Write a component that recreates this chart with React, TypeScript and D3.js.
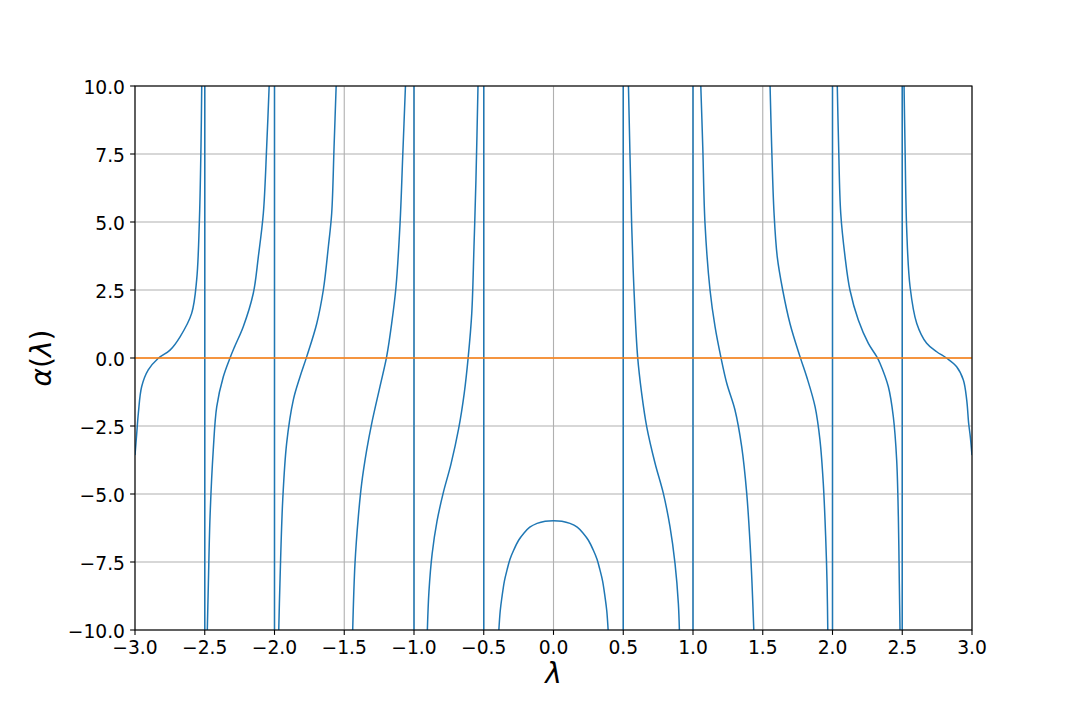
import React from 'react';
import * as d3 from 'd3';

type Pt = [number, number];

const LAMBDA_TICKS = [-3, -2.5, -2, -1.5, -1, -0.5, 0, 0.5, 1, 1.5, 2, 2.5, 3];
const ALPHA_TICKS = [-10, -7.5, -5, -2.5, 0, 2.5, 5, 7.5, 10];
const POLES = [-2.5, -2, -1, -0.5, 0.5, 1, 2, 2.5];

// branches of alpha(lambda)
const branchL5: Pt[] = [
  [-3.0, -3.57], [-2.988, -2.8], [-2.976, -2.03], [-2.952, -1.05], [-2.905, -0.44], [-2.833, -0.01],
  [-2.749, 0.29], [-2.677, 0.78], [-2.594, 1.64], [-2.558, 2.87], [-2.539, 4.95], [-2.527, 7.77], [-2.521, 10.3],
];
const branchL4: Pt[] = [
  [-2.483, -10.3], [-2.474, -8.28], [-2.462, -5.83], [-2.439, -3.38], [-2.414, -1.79], [-2.367, -0.69],
  [-2.319, 0.0], [-2.283, 0.45], [-2.224, 1.15], [-2.152, 2.38], [-2.116, 3.72], [-2.08, 5.32], [-2.056, 7.77], [-2.036, 10.3],
];
const branchL3: Pt[] = [
  [-1.971, -10.3], [-1.961, -8.28], [-1.941, -5.22], [-1.913, -3.14], [-1.865, -1.54], [-1.817, -0.69],
  [-1.769, 0.05], [-1.697, 1.27], [-1.65, 2.5], [-1.614, 4.09], [-1.59, 5.32], [-1.573, 7.77], [-1.556, 10.3],
];
const branchL2: Pt[] = [
  [-1.441, -10.3], [-1.423, -7.55], [-1.399, -5.83], [-1.375, -4.61], [-1.339, -3.38], [-1.303, -2.4],
  [-1.244, -1.05], [-1.196, 0.05], [-1.16, 1.27], [-1.129, 2.62], [-1.1, 4.95], [-1.081, 7.4], [-1.059, 10.3],
];
const branchL1: Pt[] = [
  [-0.906, -10.3], [-0.893, -8.6], [-0.87, -7.2], [-0.835, -6.0], [-0.79, -4.95], [-0.735, -3.9],
  [-0.68, -2.6], [-0.64, -1.3], [-0.611, 0.05], [-0.586, 1.64], [-0.57, 4.09], [-0.556, 6.54], [-0.54, 10.3],
];
const branchC: Pt[] = [
  [-0.395, -10.3], [-0.382, -9.3], [-0.369, -8.77], [-0.352, -8.2], [-0.333, -7.79], [-0.312, -7.4],
  [-0.285, -7.06], [-0.25, -6.7], [-0.214, -6.45], [-0.17, -6.22], [-0.118, -6.08], [-0.06, -6.0], [0.0, -5.98],
  [0.06, -6.0], [0.118, -6.08], [0.17, -6.22], [0.214, -6.45], [0.25, -6.7], [0.285, -7.06], [0.312, -7.4],
  [0.333, -7.79], [0.352, -8.2], [0.369, -8.77], [0.382, -9.3], [0.395, -10.3],
];
const branchR1: Pt[] = [
  [0.536, 10.3], [0.548, 7.53], [0.56, 4.95], [0.577, 2.5], [0.603, 0.05], [0.632, -1.3], [0.668, -2.52],
  [0.728, -3.87], [0.787, -4.97], [0.835, -6.2], [0.871, -7.55], [0.895, -9.02], [0.904, -10.3],
];
const branchR2: Pt[] = [
  [1.054, 10.3], [1.07, 7.77], [1.086, 4.95], [1.122, 2.5], [1.158, 1.15], [1.199, 0.05], [1.242, -0.93],
  [1.301, -1.91], [1.349, -3.26], [1.385, -4.97], [1.409, -6.81], [1.423, -8.28], [1.438, -10.3],
];
const branchR3: Pt[] = [
  [1.551, 10.3], [1.564, 7.77], [1.581, 5.32], [1.604, 3.72], [1.643, 2.5], [1.695, 1.27], [1.767, 0.05],
  [1.815, -0.69], [1.875, -1.79], [1.91, -3.01], [1.934, -4.61], [1.951, -6.57], [1.961, -8.28], [1.967, -10.3],
];
const branchR4: Pt[] = [
  [2.033, 10.3], [2.044, 7.77], [2.059, 5.32], [2.09, 3.72], [2.125, 2.5], [2.185, 1.4], [2.257, 0.54],
  [2.317, 0.05], [2.341, -0.2], [2.4, -1.05], [2.436, -2.16], [2.46, -3.75], [2.472, -5.83], [2.479, -8.28], [2.485, -10.3],
];
const branchR5: Pt[] = [
  [2.512, 10.3], [2.52, 7.77], [2.532, 4.71], [2.556, 2.62], [2.604, 1.27], [2.675, 0.54], [2.747, 0.23],
  [2.819, -0.01], [2.89, -0.32], [2.938, -0.81], [2.962, -1.54], [2.976, -2.4], [2.988, -2.9], [3.0, -3.57],
];
const BRANCHES = [branchL5, branchL4, branchL3, branchL2, branchL1, branchC, branchR1, branchR2, branchR3, branchR4, branchR5];
const ZERO_LINE: Pt[] = [[-3, 0], [3, 0]];

const W = 1080;
const H = 720;
const M = { left: 135, right: 972, top: 86, bottom: 630 };
const FONT = "'DejaVu Sans', sans-serif";
const fmt = (v: number) => d3.format('.1f')(v).replace('-', '\u2212');

export default function App() {
  const x = d3.scaleLinear().domain([-3, 3]).range([M.left, M.right]);
  const y = d3.scaleLinear().domain([-10, 10]).range([M.bottom, M.top]);
  const line = d3
    .line<Pt>()
    .x((d) => x(d[0]))
    .y((d) => y(d[1]))
    .curve(d3.curveCatmullRom.alpha(0.5));
  const straight = d3
    .line<Pt>()
    .x((d) => x(d[0]))
    .y((d) => y(d[1]));

  return (
    <svg width={W} height={H} style={{ position: 'absolute', left: 0, top: 0, background: '#fff' }}>
      <defs>
        <clipPath id="plotclip">
          <rect x={M.left} y={M.top} width={M.right - M.left} height={M.bottom - M.top} />
        </clipPath>
      </defs>
      <rect x={0} y={0} width={W} height={H} fill="#fff" />
      {/* grid */}
      <g stroke="#b0b0b0" strokeWidth={1.1}>
        {LAMBDA_TICKS.map((t) => (
          <line key={'gx' + t} x1={x(t)} x2={x(t)} y1={M.top} y2={M.bottom} />
        ))}
        {ALPHA_TICKS.map((t) => (
          <line key={'gy' + t} x1={M.left} x2={M.right} y1={y(t)} y2={y(t)} />
        ))}
      </g>
      {/* curves */}
      <g clipPath="url(#plotclip)" fill="none">
        {BRANCHES.map((b, i) => (
          <path key={'b' + i} d={line(b) || ''} stroke="#1f77b4" strokeWidth={1.5} />
        ))}
        {POLES.map((p) => (
          <path key={'p' + p} d={straight([[p, 10.5], [p, -10.5]]) || ''} stroke="#1f77b4" strokeWidth={1.5} />
        ))}
        <path d={straight(ZERO_LINE) || ''} stroke="#ff7f0e" strokeWidth={1.5} />
      </g>
      {/* spines */}
      <rect x={M.left} y={M.top} width={M.right - M.left} height={M.bottom - M.top} fill="none" stroke="#000" strokeWidth={1.1} />
      {/* ticks */}
      <g fontFamily={FONT} fontSize={18.7} fill="#000">
        {LAMBDA_TICKS.map((t) => (
          <g key={'tx' + t}>
            <line x1={x(t)} x2={x(t)} y1={M.bottom} y2={M.bottom + 4.9} stroke="#000" strokeWidth={1.1} />
            <text x={x(t)} y={M.bottom + 24} textAnchor="middle">{fmt(t)}</text>
          </g>
        ))}
        {ALPHA_TICKS.map((t) => (
          <g key={'ty' + t}>
            <line x1={M.left - 4.9} x2={M.left} y1={y(t)} y2={y(t)} stroke="#000" strokeWidth={1.1} />
            <text x={M.left - 10} y={y(t) + 7.5} textAnchor="end">{fmt(t)}</text>
          </g>
        ))}
      </g>
      {/* axis labels */}
      <text x={(M.left + M.right) / 2} y={683} textAnchor="middle" fontFamily={FONT} fontSize={28} fontStyle="italic">
        λ
      </text>
      <text
        transform={`translate(51, ${(M.top + M.bottom) / 2}) rotate(-90)`}
        textAnchor="middle"
        fontFamily={FONT}
        fontSize={28}
      >
        <tspan fontStyle="italic">α</tspan>
        <tspan>(</tspan>
        <tspan fontStyle="italic">λ</tspan>
        <tspan>)</tspan>
      </text>
    </svg>
  );
}
